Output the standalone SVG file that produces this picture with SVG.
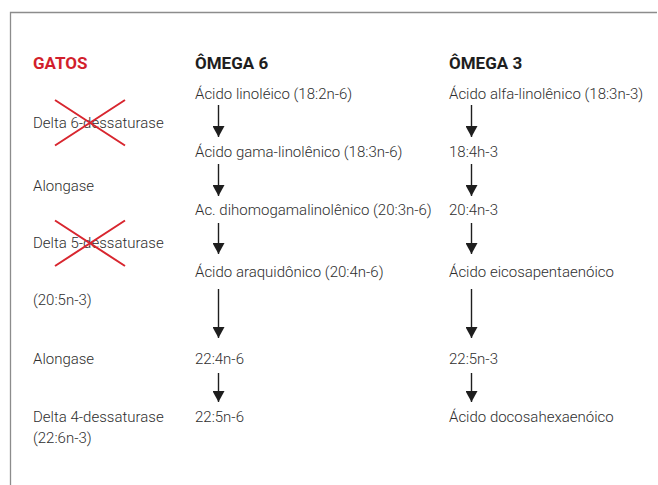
<svg xmlns="http://www.w3.org/2000/svg" width="658" height="485" viewBox="0 0 658 485">
<defs>
<style>
.t{font-family:Roboto,"Liberation Sans",sans-serif;font-weight:300;font-size:15px;fill:#2e2e2e}
.h{font-family:Roboto,"Liberation Sans",sans-serif;font-weight:700;font-size:17px;fill:#1e1e1e}
.red{fill:#d21f2c}
.x{stroke:#d8262f;stroke-width:2;fill:none}
.a{stroke:#1e1e1e;stroke-width:1.4;fill:none;marker-end:url(#ah)}
</style>
<marker id="ah" viewBox="0 0 11 12" refX="11" refY="6" markerWidth="11" markerHeight="12" markerUnits="userSpaceOnUse" orient="auto">
<path d="M0,0 L11,6 L0,12 Z" fill="#1e1e1e"/>
</marker>
</defs>
<rect width="658" height="485" fill="#ffffff"/>
<path d="M10.5,485 L10.5,12.5 L657,12.5" stroke="#8c8c8c" stroke-width="1.3" fill="none"/>

<g id="gatos">
<text class="h red" x="33" y="69">GATOS</text>
<g id="delta6"><text class="t" x="33" y="127.5">Delta 6-dessaturase</text>
<path class="x" d="M55,100 L125,145.5 M55,145.5 L125,100"/></g>
<g id="alongase1"><text class="t" x="33" y="190.5">Alongase</text></g>
<g id="delta5"><text class="t" x="33" y="248">Delta 5-dessaturase</text>
<path class="x" d="M55,220.5 L125,266 M55,266 L125,220.5"/></g>
<g id="n3-20-5"><text class="t" x="33" y="305">(20:5n-3)</text></g>
<g id="alongase2"><text class="t" x="33" y="363.5">Alongase</text></g>
<g id="delta4"><text class="t" x="33" y="421.5">Delta 4-dessaturase</text>
<text class="t" x="33" y="442.5">(22:6n-3)</text></g>
</g>

<g id="omega6">
<text class="h" x="195" y="69">ÔMEGA 6</text>
<g id="o6-1"><text class="t" x="195" y="99">Ácido linoléico (18:2n-6)</text></g>
<g id="o6-2"><text class="t" x="195" y="157">Ácido gama-linolênico (18:3n-6)</text></g>
<g id="o6-3"><text class="t" x="195" y="215">Ac. dihomogamalinolênico (20:3n-6)</text></g>
<g id="o6-4"><text class="t" x="195" y="277">Ácido araquidônico (20:4n-6)</text></g>
<g id="o6-5"><text class="t" x="195" y="364">22:4n-6</text></g>
<g id="o6-6"><text class="t" x="195" y="422">22:5n-6</text></g>
</g>

<g id="omega3">
<text class="h" x="449" y="69">ÔMEGA 3</text>
<g id="o3-1"><text class="t" x="449" y="99">Ácido alfa-linolênico (18:3n-3)</text></g>
<g id="o3-2"><text class="t" x="449" y="157">18:4h-3</text></g>
<g id="o3-3"><text class="t" x="449" y="215">20:4n-3</text></g>
<g id="o3-4"><text class="t" x="449" y="277">Ácido eicosapentaenóico</text></g>
<g id="o3-5"><text class="t" x="449" y="364">22:5n-3</text></g>
<g id="o3-6"><text class="t" x="449" y="422">Ácido docosahexaenóico</text></g>
</g>

<g id="connectors">
<line class="a" x1="218.5" y1="105" x2="218.5" y2="137"/>
<line class="a" x1="218.5" y1="164" x2="218.5" y2="196"/>
<line class="a" x1="218.5" y1="223" x2="218.5" y2="254"/>
<line class="a" x1="218.5" y1="289" x2="218.5" y2="338"/>
<line class="a" x1="218.5" y1="373" x2="218.5" y2="402"/>
<line class="a" x1="471.5" y1="105" x2="471.5" y2="137"/>
<line class="a" x1="471.5" y1="164" x2="471.5" y2="196"/>
<line class="a" x1="471.5" y1="223" x2="471.5" y2="254"/>
<line class="a" x1="471.5" y1="289" x2="471.5" y2="338"/>
<line class="a" x1="471.5" y1="373" x2="471.5" y2="402"/>
</g>
</svg>
